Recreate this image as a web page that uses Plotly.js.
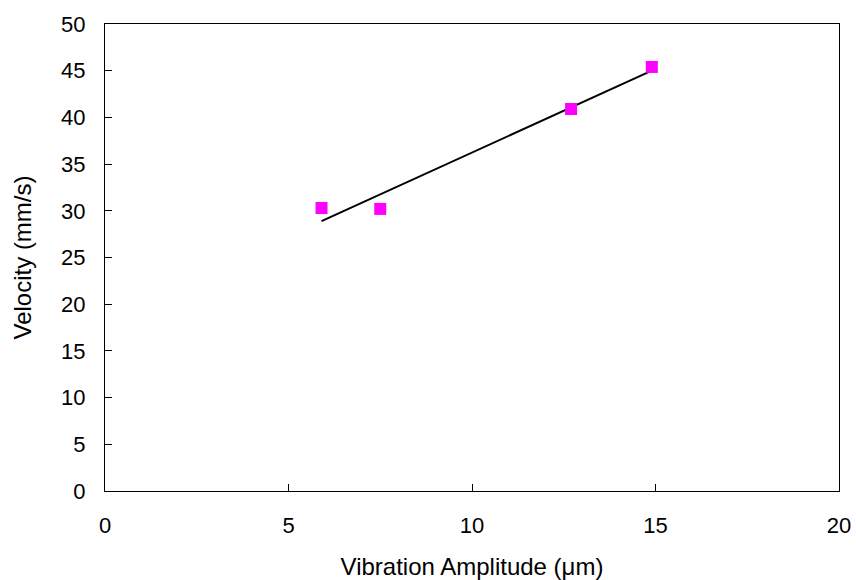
<!DOCTYPE html>
<html>
<head>
<meta charset="utf-8">
<script src="https://cdn.plot.ly/plotly-3.0.1.min.js"></script>
<style>html,body{margin:0;padding:0;background:#fff}#chart{width:856px;height:580px}</style>
</head>
<body>
<div id="chart"></div>
<script>
const amplitude = [5.9, 7.5, 12.7, 14.9];
const velocity = [30.3, 30.2, 40.9, 45.4];
const trendX = [5.9, 14.9];
const trendY = [28.9, 45.0];
const xTicks = [0, 5, 10, 15, 20];
const yTicks = [0, 5, 10, 15, 20, 25, 30, 35, 40, 45, 50];

const tickFont = {family: 'Liberation Sans, Arial, sans-serif', size: 22, color: '#000'};
const titleFont = {family: 'Liberation Sans, Arial, sans-serif', size: 24, color: '#000'};

const traces = [
  {x: trendX, y: trendY, mode: 'lines', type: 'scatter',
   line: {color: '#000', width: 2}, hoverinfo: 'skip', showlegend: false},
  {x: amplitude, y: velocity, mode: 'markers', type: 'scatter',
   marker: {symbol: 'square', color: '#FF00FF', size: 12, line: {width: 0}}, showlegend: false}
];

const layout = {
  width: 856, height: 580,
  margin: {l: 105, r: 17, t: 24, b: 88.5},
  paper_bgcolor: '#fff', plot_bgcolor: '#fff',
  font: tickFont,
  showlegend: false,
  xaxis: {
    range: [0, 20], tickvals: xTicks, ticktext: xTicks.map(String),
    showgrid: false, zeroline: false,
    showline: true, linecolor: '#000', linewidth: 1, mirror: true,
    ticks: 'inside', ticklen: 7, tickcolor: '#000', tickwidth: 1,
    ticklabelstandoff: 15,
    tickfont: tickFont,
    title: {text: 'Vibration Amplitude (\u03bcm)', font: titleFont, standoff: 25}
  },
  yaxis: {
    range: [0, 50], tickvals: yTicks, ticktext: yTicks.map(String),
    showgrid: false, zeroline: false,
    showline: true, linecolor: '#000', linewidth: 1, mirror: true,
    ticks: 'inside', ticklen: 7, tickcolor: '#000', tickwidth: 1,
    ticklabelstandoff: 14,
    tickfont: tickFont,
    title: {text: 'Velocity (mm/s)', font: titleFont, standoff: 22}
  }
};

Plotly.newPlot('chart', traces, layout, {displayModeBar: false, staticPlot: true});
</script>
</body>
</html>
